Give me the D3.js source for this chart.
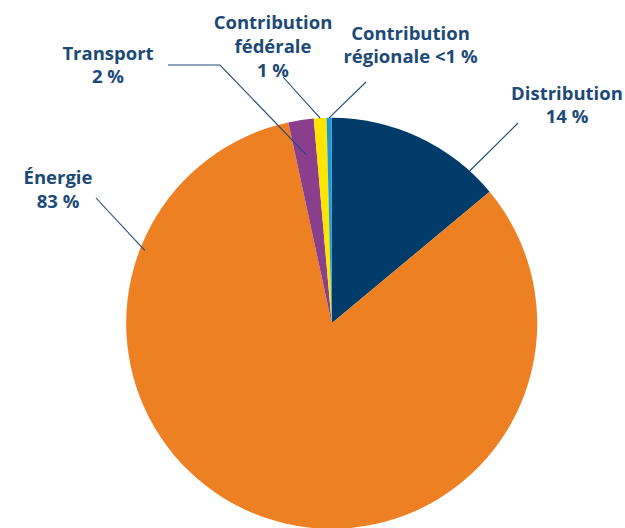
<!DOCTYPE html>
<html>
<head>
<meta charset="utf-8">
<script src="https://cdn.jsdelivr.net/npm/d3@7"></script>
<style>
  html, body { margin: 0; padding: 0; background: #ffffff; }
  svg { display: block; }
  .lbl { font-family: "Open Sans", "Noto Sans", sans-serif; font-weight: 700; font-size: 18.5px; fill: #1c4a76; }
</style>
</head>
<body>
<svg id="chart" width="625" height="528"></svg>
<script>
// Répartition de la facture : parts en pourcentage
const categories = ["Distribution", "Énergie", "Transport", "Contribution fédérale", "Contribution régionale"];
const values = [14, 83, 2, 1, 0.4];
const valueLabels = ["14 %", "83 %", "2 %", "1 %", "<1 %"];
const colors = ["#003c6a", "#ee8024", "#8a3f8c", "#ffe500", "#1c9ad6"];

// Label text lines, one list per slice
const labelLines = [
  ["Distribution", "14 %"],
  ["Énergie", "83 %"],
  ["Transport", "2 %"],
  ["Contribution", "fédérale", "1 %"],
  ["Contribution", "régionale <1 %"]
];

const width = 625, height = 528;
const cx = 331.7, cy = 323.3, radius = 205.5;

const svg = d3.select("#chart");
const g = svg.append("g").attr("transform", `translate(${cx},${cy})`);

const data = categories.map((c, i) => ({ name: c, value: values[i], color: colors[i], lines: labelLines[i], idx: i }));

const pie = d3.pie().value(d => d.value).sort(null);
const arcs = pie(data);
const arc = d3.arc().innerRadius(0).outerRadius(radius);

g.selectAll("path.slice")
  .data(arcs)
  .enter().append("path")
  .attr("class", "slice")
  .attr("d", arc)
  .attr("fill", d => d.data.color);

// Label placement: text block centre, first baseline, line spacing,
// leader anchor along the slice (fraction of its span, radius factor)
// and the leader's outer points.
const labelLayout = [
  { x: 567, y: 100, dy: 23, t: 0.84, rf: 1.0,   outer: [[518, 123]] },
  { x: 58,  y: 184, dy: 24, t: 0.81, rf: 0.975, outer: [[96, 198]] },
  { x: 108, y: 60,  dy: 23, t: 0.5,  rf: 0.83,  outer: [[168, 65], [220, 65]] },
  { x: 273, y: 29,  dy: 24, t: 0.5,  rf: 1.0,   outer: [[283, 77]] },
  { x: 410.5, y: 40, dy: 23, t: 0.5, rf: 1.0,   outer: [[366, 82]] }
];

const lineGen = d3.line();

arcs.forEach((a, i) => {
  const L = labelLayout[i];
  const ang = a.startAngle + (a.endAngle - a.startAngle) * L.t;
  const r = radius * L.rf;
  const inner = [cx + r * Math.sin(ang), cy - r * Math.cos(ang)];
  const pts = L.outer.concat([inner]);
  svg.append("path")
    .attr("d", lineGen(pts))
    .attr("fill", "none")
    .attr("stroke", "#1c4a76")
    .attr("stroke-width", 1.1);

  const text = svg.append("text")
    .attr("class", "lbl")
    .attr("text-anchor", "middle");
  a.data.lines.forEach((ln, k) => {
    text.append("tspan")
      .attr("x", L.x)
      .attr("y", L.y + k * L.dy)
      .text(ln);
  });
});
</script>
</body>
</html>
